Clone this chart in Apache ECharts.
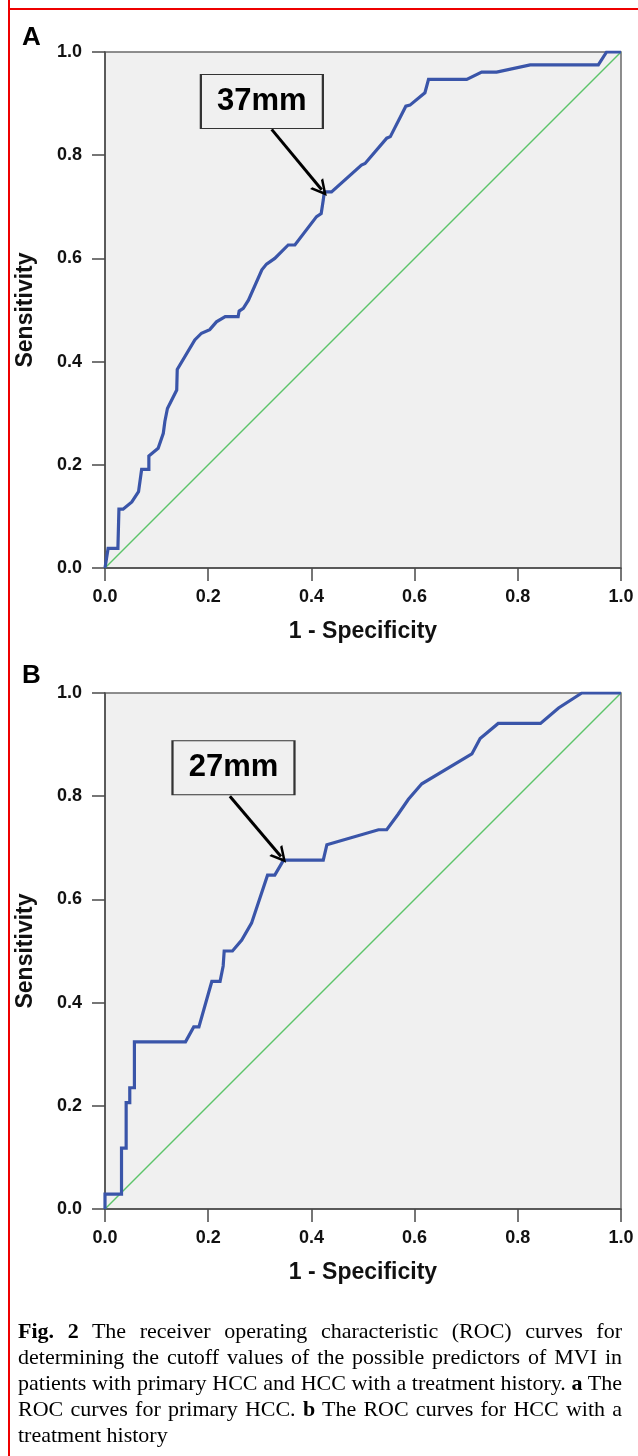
<!DOCTYPE html>
<html>
<head>
<meta charset="utf-8">
<script src="https://cdn.jsdelivr.net/npm/echarts@6/dist/echarts.min.js"></script>
<style>
  html, body { margin: 0; padding: 0; background: #fff; }
  #wrap { position: relative; width: 638px; height: 1456px; overflow: hidden; }
  #chart { position: absolute; left: 0; top: 0; width: 638px; height: 1456px; }
  #caption { position: absolute; left: 18px; top: 1318px; width: 604px;
    font-family: "Liberation Serif", "Times New Roman", serif; font-size: 22px; line-height: 26px; color: #000; }
  #caption div { white-space: nowrap; text-align: justify; text-align-last: justify; }
  #caption div.last { text-align-last: left; }
</style>
</head>
<body>
<div id="wrap">
  <div id="chart"></div>
  <div id="caption">
    <div><b>Fig. 2</b> The receiver operating characteristic (ROC) curves for</div>
    <div>determining the cutoff values of the possible predictors of MVI in</div>
    <div>patients with primary HCC and HCC with a treatment history. <b>a</b> The</div>
    <div>ROC curves for primary HCC. <b>b</b> The ROC curves for HCC with a</div>
    <div class="last">treatment history</div>
  </div>
</div>
<script>
// ---- data ----
const tickValues = [0, 0.2, 0.4, 0.6, 0.8, 1.0];
const xAxisTitle = '1 - Specificity';
const yAxisTitle = 'Sensitivity';
const panelLabels = ['A', 'B'];
const cutoffLabels = ['37mm', '27mm'];

const rocA_fpr = [0, 0.006, 0.025, 0.027, 0.035, 0.052, 0.065, 0.071, 0.085, 0.085, 0.103, 0.113, 0.116, 0.121, 0.139, 0.140, 0.174, 0.187, 0.203, 0.216, 0.233, 0.258, 0.260, 0.268, 0.278, 0.304, 0.313, 0.329, 0.355, 0.368, 0.410, 0.419, 0.423, 0.425, 0.439, 0.497, 0.504, 0.546, 0.553, 0.583, 0.591, 0.620, 0.627, 0.701, 0.730, 0.759, 0.824, 0.956, 0.972, 1.0];
const rocA_tpr = [0, 0.038, 0.038, 0.114, 0.114, 0.128, 0.148, 0.191, 0.191, 0.217, 0.232, 0.261, 0.284, 0.309, 0.345, 0.385, 0.442, 0.455, 0.462, 0.477, 0.487, 0.487, 0.498, 0.503, 0.519, 0.578, 0.589, 0.600, 0.626, 0.626, 0.681, 0.687, 0.713, 0.729, 0.729, 0.781, 0.784, 0.833, 0.836, 0.895, 0.897, 0.921, 0.947, 0.947, 0.961, 0.961, 0.975, 0.975, 1.0, 1.0];

const rocB_fpr = [0, 0, 0.032, 0.032, 0.041, 0.041, 0.048, 0.048, 0.057, 0.057, 0.156, 0.172, 0.182, 0.207, 0.223, 0.229, 0.231, 0.247, 0.265, 0.284, 0.315, 0.329, 0.346, 0.423, 0.430, 0.530, 0.546, 0.568, 0.588, 0.614, 0.711, 0.727, 0.762, 0.844, 0.879, 0.924, 1.0];
const rocB_tpr = [0, 0.029, 0.029, 0.118, 0.118, 0.206, 0.206, 0.235, 0.235, 0.324, 0.324, 0.353, 0.353, 0.441, 0.441, 0.471, 0.500, 0.500, 0.521, 0.554, 0.647, 0.647, 0.676, 0.676, 0.706, 0.735, 0.735, 0.765, 0.794, 0.824, 0.882, 0.912, 0.941, 0.941, 0.971, 1.0, 1.0];

const refLine_x = [0, 1];
const refLine_y = [0, 1];

// annotation anchors (data coordinates): box centre, arrow start, arrow end
const annoA = { box: [0.304, 0.904], from: [0.323, 0.850], to: [0.420, 0.733] };
const annoB = { box: [0.249, 0.855], from: [0.242, 0.800], to: [0.341, 0.683] };

// ---- build ----
const zip = (xs, ys) => xs.map((x, i) => [x, ys[i]]);
const FONT = '"Liberation Sans", Arial, sans-serif';
const axisColor = '#4a4a4a';

function xAxis(gi) {
  return {
    gridIndex: gi, type: 'value', min: 0, max: 1, interval: 0.2,
    name: xAxisTitle, nameLocation: 'middle', nameGap: 52,
    nameTextStyle: { fontFamily: FONT, fontWeight: 'bold', fontSize: 23, color: '#111' },
    axisLine: { show: true, lineStyle: { color: axisColor, width: 1.5 } },
    axisTick: { show: true, inside: false, length: 13, lineStyle: { color: axisColor, width: 1.5 } },
    axisLabel: { margin: 20, fontFamily: FONT, fontWeight: 'bold', fontSize: 18, color: '#111',
      formatter: v => v.toFixed(1), showMinLabel: true, showMaxLabel: true },
    splitLine: { show: false }
  };
}
function yAxis(gi) {
  return {
    gridIndex: gi, type: 'value', min: 0, max: 1, interval: 0.2,
    name: yAxisTitle, nameLocation: 'middle', nameGap: 68,
    nameTextStyle: { fontFamily: FONT, fontWeight: 'bold', fontSize: 23, color: '#111' },
    axisLine: { show: true, lineStyle: { color: axisColor, width: 1.5 } },
    axisTick: { show: true, inside: false, length: 13, lineStyle: { color: axisColor, width: 1.5 } },
    axisLabel: { margin: 23, fontFamily: FONT, fontWeight: 'bold', fontSize: 18, color: '#111',
      formatter: v => v.toFixed(1) },
    splitLine: { show: false }
  };
}
const chevron = 'path://M0,12 L6,0 L12,12 L10,12 L6,4 L2,12 Z';

function rocSeries(gi, data, anno, label) {
  return [
    {
      type: 'line', xAxisIndex: gi, yAxisIndex: gi, data: zip(refLine_x, refLine_y),
      symbol: 'none', silent: true, z: 2,
      lineStyle: { color: '#5cc46a', width: 1.5 }
    },
    {
      type: 'line', xAxisIndex: gi, yAxisIndex: gi, data: data,
      symbol: 'none', z: 3,
      lineStyle: { color: '#3a55a9', width: 3.2, join: 'miter' },
      markLine: {
        silent: true, symbol: ['none', chevron], symbolSize: [17, 16],
        lineStyle: { color: '#000', width: 3, type: 'solid' },
        label: { show: false },
        data: [[{ coord: anno.from }, { coord: anno.to }]]
      },
      markPoint: {
        silent: true,
        data: [{
          coord: anno.box, symbol: 'rect', symbolSize: [122, 54],
          itemStyle: { color: '#f0f0f0', borderColor: '#333', borderWidth: 1.5 },
          label: { show: true, position: 'inside', formatter: label,
            fontFamily: FONT, fontWeight: 'bold', fontSize: 31, color: '#000' }
        }]
      }
    }
  ];
}

const chart = echarts.init(document.getElementById('chart'), null, { renderer: 'canvas' });
chart.setOption({
  animation: false,
  backgroundColor: '#fff',
  grid: [
    { left: 105, top: 52, width: 516, height: 516, show: true, backgroundColor: '#f0f0f0', borderColor: '#6a6a6a', borderWidth: 1.5 },
    { left: 105, top: 693, width: 516, height: 516, show: true, backgroundColor: '#f0f0f0', borderColor: '#6a6a6a', borderWidth: 1.5 }
  ],
  xAxis: [xAxis(0), xAxis(1)],
  yAxis: [yAxis(0), yAxis(1)],
  series: [
    ...rocSeries(0, zip(rocA_fpr, rocA_tpr), annoA, cutoffLabels[0]),
    ...rocSeries(1, zip(rocB_fpr, rocB_tpr), annoB, cutoffLabels[1])
  ],
  graphic: [
    { type: 'line', shape: { x1: 9, y1: 0, x2: 9, y2: 1456 }, style: { stroke: '#ee0000', lineWidth: 2 } },
    { type: 'line', shape: { x1: 8, y1: 9, x2: 638, y2: 9 }, style: { stroke: '#ee0000', lineWidth: 2 } },
    { type: 'text', left: 22, top: 25, style: { text: panelLabels[0], font: 'bold 26px ' + FONT, fill: '#000' } },
    { type: 'text', left: 22, top: 663, style: { text: panelLabels[1], font: 'bold 26px ' + FONT, fill: '#000' } }
  ]
});
</script>
</body>
</html>
